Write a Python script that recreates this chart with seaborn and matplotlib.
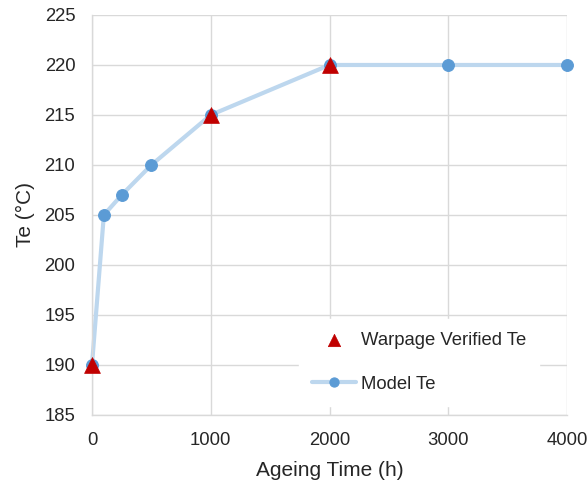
import matplotlib
matplotlib.use("Agg")
import matplotlib.pyplot as plt
import seaborn as sns
import pandas as pd

model_time = [0, 100, 250, 500, 1000, 2000, 3000, 4000]
model_te = [190, 205, 207, 210, 215, 220, 220, 220]
verified_time = [0, 1000, 2000]
verified_te = [190, 215, 220]

sns.set_theme(style="whitegrid")
plt.rcParams['font.family'] = ['Liberation Sans', 'DejaVu Sans']

fig = plt.figure(figsize=(5.87, 4.91), dpi=100)
ax = fig.add_axes([0.1567, 0.1548, 0.8093, 0.8147])

df_model = pd.DataFrame({"t": model_time, "te": model_te})
df_ver = pd.DataFrame({"t": verified_time, "te": verified_te})

sns.lineplot(data=df_model, x="t", y="te", ax=ax, color="#bdd7ee", linewidth=3,
             marker="o", markersize=8.5, markerfacecolor="#5b9bd5", markeredgecolor="#5b9bd5",
             label="Model Te", zorder=2)
sns.scatterplot(data=df_ver, x="t", y="te", ax=ax, marker="^", s=130, color="#c00000",
                edgecolor="#c00000", linewidth=0.5, label="Warpage Verified Te", zorder=3,
                clip_on=False)

ax.set_xlim(0, 4000)
ax.set_ylim(185, 225)
ax.set_xticks([0, 1000, 2000, 3000, 4000])
ax.set_yticks(range(185, 226, 5))
ax.grid(True, color="#d9d9d9", linewidth=1)
for s in ["top", "right"]:
    ax.spines[s].set_visible(False)
for s in ["left", "bottom"]:
    ax.spines[s].set_color("#d9d9d9")
    ax.spines[s].set_linewidth(1)
ax.tick_params(axis="both", labelsize=13.3, colors="#262626", length=0, pad=12)
ax.set_xlabel("Ageing Time (h)", fontsize=15, color="#262626", labelpad=9)
ax.set_ylabel("Te (°C)", fontsize=15, color="#262626", labelpad=7)
for line in ax.lines:
    line.set_clip_on(False)

handles, labels = ax.get_legend_handles_labels()
order = [labels.index("Warpage Verified Te"), labels.index("Model Te")]
leg = ax.legend([handles[i] for i in order], [labels[i] for i in order],
                loc="lower right", bbox_to_anchor=(0.96, 0.0), frameon=True,
                fontsize=13.3, facecolor="white", edgecolor="white", framealpha=1,
                labelspacing=1.45, handlelength=2.4, handletextpad=0.25,
                borderpad=0.7, markerscale=0.78, fancybox=False)
for t in leg.get_texts():
    t.set_color("#262626")

fig.savefig("out.png", dpi=100)
